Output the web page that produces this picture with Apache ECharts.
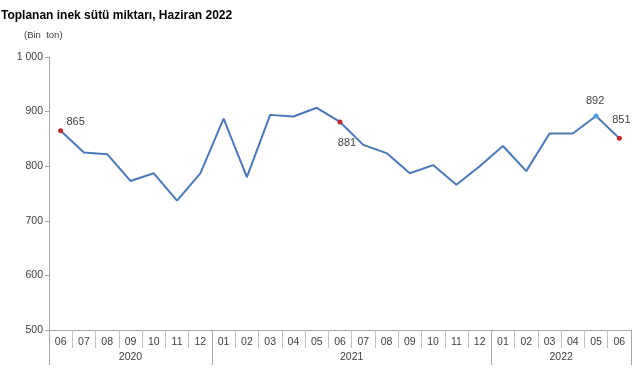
<!DOCTYPE html>
<html><head><meta charset="utf-8">
<script src="https://cdn.jsdelivr.net/npm/echarts@6/dist/echarts.min.js"></script>
<style>html,body{margin:0;padding:0;background:#fff}#c{width:641px;height:380px}</style>
</head><body><div id="c"></div>
<script>
var months = ['06','07','08','09','10','11','12','01','02','03','04','05','06','07','08','09','10','11','12','01','02','03','04','05','06'];
var values = [865,825,822,773,787,737,787,887,780,894,891,907,881,839,824,787,802,766,800,837,791,860,860,892,851];
var years = ['2020','2021','2022'];
var yearCounts = [7,12,6];
var labelled = {0:'tr',12:'b',23:'t',24:'tr2'};
var markerColors = {0:'#c0282d',12:'#c0282d',23:'#4aa3df',24:'#c0282d'};

var bounds = [0], centers = [];
yearCounts.forEach(function(n,i){ var s = bounds[bounds.length-1]; centers.push(s + n/2); bounds.push(s+n); });

var labelCfg = {
  tr: {position:'top', offset:[15,4]},
  b: {position:'bottom', offset:[7,8]},
  t: {position:'top', offset:[-1,-2]},
  tr2: {position:'top', offset:[2,-5]}
};
var data = values.map(function(v,i){
  var d = {value:v};
  if (labelled[i]) {
    var c = labelCfg[labelled[i]];
    d.symbol = 'circle'; d.symbolSize = 5;
    d.itemStyle = {color: markerColors[i]};
    d.label = {show:true, position:c.position, offset:c.offset, color:'#404040', fontSize:11, fontFamily:'Liberation Sans'};
  } else {
    d.symbol = 'none';
  }
  return d;
});

var chart = echarts.init(document.getElementById('c'));
chart.setOption({
  animation:false,
  title:{text:'Toplanan inek sütü miktarı, Haziran 2022', left:-4, top:5,
    textStyle:{fontSize:12, fontWeight:'bold', color:'#000', fontFamily:'Liberation Sans'}},
  graphic:[{type:'text', left:24, top:30, style:{text:'(Bin  ton)', fontSize:9.5, fill:'#404040', fontFamily:'Liberation Sans'}}],
  grid:{left:49, right:10, top:57, bottom:50},
  xAxis:[{
    type:'category', data:months, boundaryGap:true, position:'bottom',
    axisLine:{lineStyle:{color:'#a6a6a6', width:1}},
    axisTick:{show:true, length:18, interval:0, lineStyle:{color:'#bfbfbf'}},
    axisLabel:{interval:0, color:'#404040', fontSize:10.5, fontFamily:'Liberation Sans', margin:7}
  },{
    type:'value', min:0, max:months.length, position:'bottom',
    axisLine:{show:false},
    splitLine:{show:false},
    axisTick:{show:true, length:35, customValues:bounds, lineStyle:{color:'#a6a6a6'}},
    axisLabel:{customValues:centers, color:'#404040', fontSize:10.5, fontFamily:'Liberation Sans', margin:22,
      formatter:function(v){ var i = centers.indexOf(v); return i>=0 ? years[i] : ''; }}
  }],
  yAxis:{
    type:'value', min:500, max:1000, interval:100,
    axisLine:{show:true, lineStyle:{color:'#a6a6a6'}},
    axisTick:{show:true, length:4, lineStyle:{color:'#a6a6a6'}},
    splitLine:{show:false},
    axisLabel:{color:'#404040', fontSize:10.5, fontFamily:'Liberation Sans', margin:6,
      formatter:function(v){ return String(v).replace(/\B(?=(\d{3})+(?!\d))/g,' '); }}
  },
  series:[{
    type:'line', xAxisIndex:0, data:data,
    lineStyle:{color:'#4a78b8', width:2},
    itemStyle:{color:'#4a78b8'},
    showAllSymbol:true
  }]
});
</script></body></html>
